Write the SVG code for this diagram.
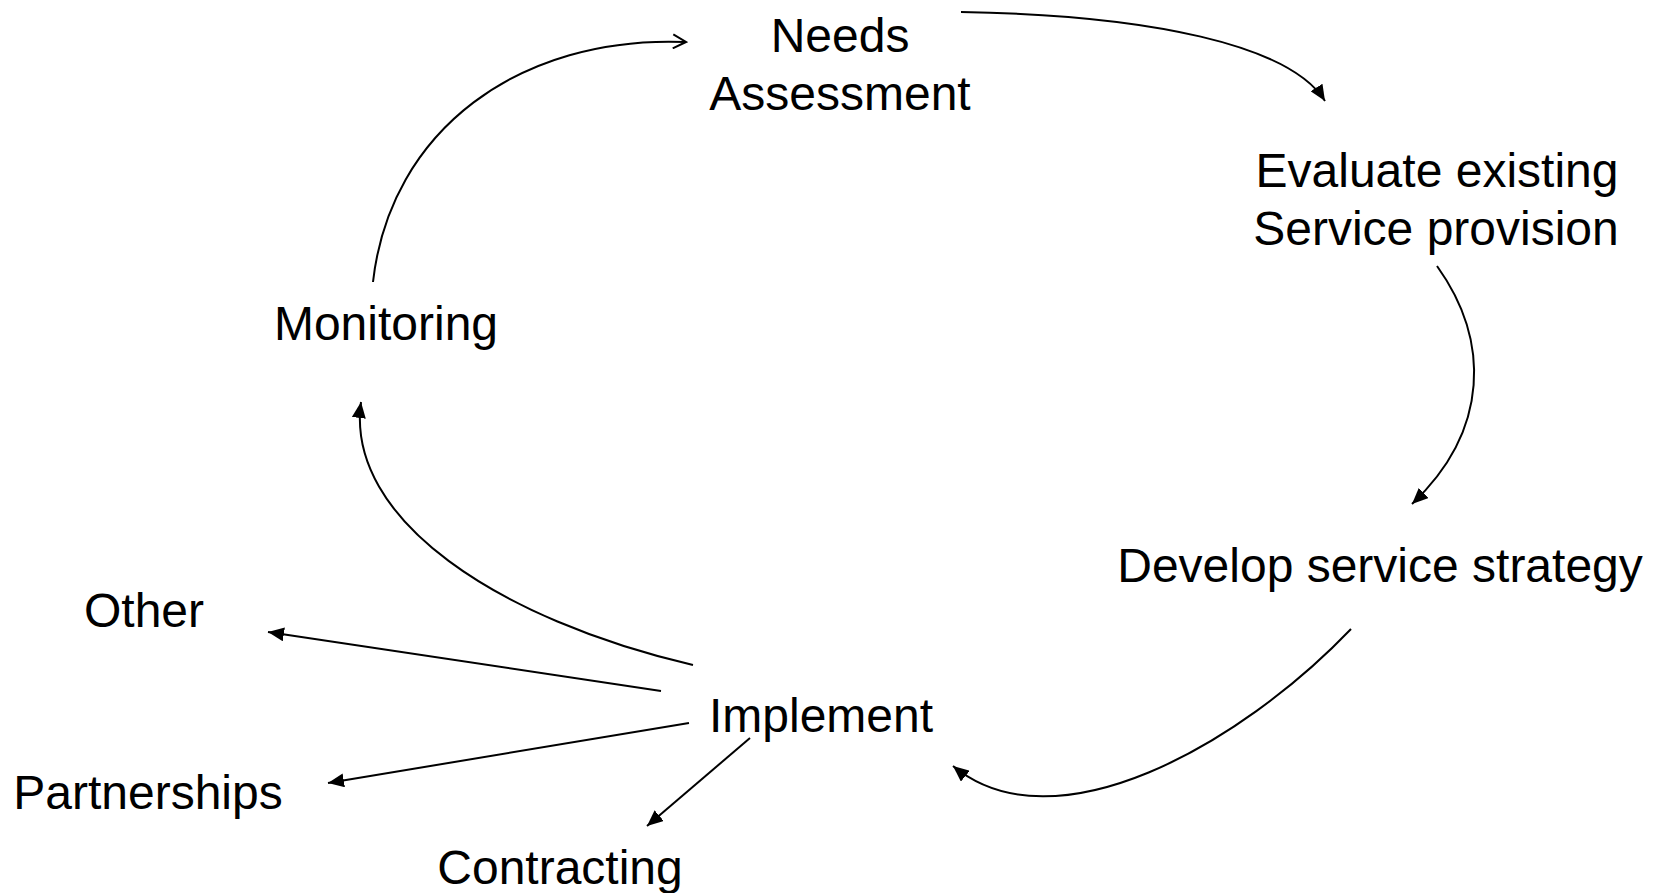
<svg xmlns="http://www.w3.org/2000/svg" width="1660" height="893" viewBox="0 0 1660 893">
<defs>
<style>
.t{font-family:"Liberation Sans",Arial,sans-serif;font-size:48px;fill:#000;text-anchor:middle}
.c{fill:none;stroke:#000;stroke-width:2}
</style>
<marker id="af" markerUnits="userSpaceOnUse" markerWidth="18" markerHeight="14" refX="16" refY="7" orient="auto">
<path d="M0,0 L16,7 L0,14 z" fill="#000"/>
</marker>
<marker id="ao" markerUnits="userSpaceOnUse" markerWidth="16" markerHeight="16" refX="14" refY="8" orient="auto">
<path d="M1,1 L14,8 L1,15" fill="none" stroke="#000" stroke-width="2"/>
</marker>
</defs>
<rect width="1660" height="893" fill="#fff"/>
<g id="connectors">
<path class="c" d="M961,12 C1150,15 1290,45 1325,101" marker-end="url(#af)"/>
<path class="c" d="M1437,266 C1490,340 1490,430 1412,504" marker-end="url(#af)"/>
<path class="c" d="M1351,629 C1240,745 1055,850 953,766" marker-end="url(#af)"/>
<path class="c" d="M693,665 C500,620 345,520 361,402" marker-end="url(#af)"/>
<path class="c" d="M373,282 C390,130 520,35 686,42" marker-end="url(#ao)"/>
<path class="c" d="M661,691 L268,632" marker-end="url(#af)"/>
<path class="c" d="M689,723 L328,783" marker-end="url(#af)"/>
<path class="c" d="M750,738 L647,826" marker-end="url(#af)"/>
</g>
<g id="needs"><text class="t" x="840" y="52">Needs</text><text class="t" x="840" y="110">Assessment</text></g>
<g id="evaluate"><text class="t" x="1437" y="187">Evaluate existing</text><text class="t" x="1436" y="245">Service provision</text></g>
<g id="develop"><text class="t" x="1380" y="582">Develop service strategy</text></g>
<g id="implement"><text class="t" x="821" y="732">Implement</text></g>
<g id="monitoring"><text class="t" x="386" y="340">Monitoring</text></g>
<g id="other"><text class="t" x="144" y="627">Other</text></g>
<g id="partnerships"><text class="t" x="148" y="809">Partnerships</text></g>
<g id="contracting"><text class="t" x="560" y="884">Contracting</text></g>
</svg>
